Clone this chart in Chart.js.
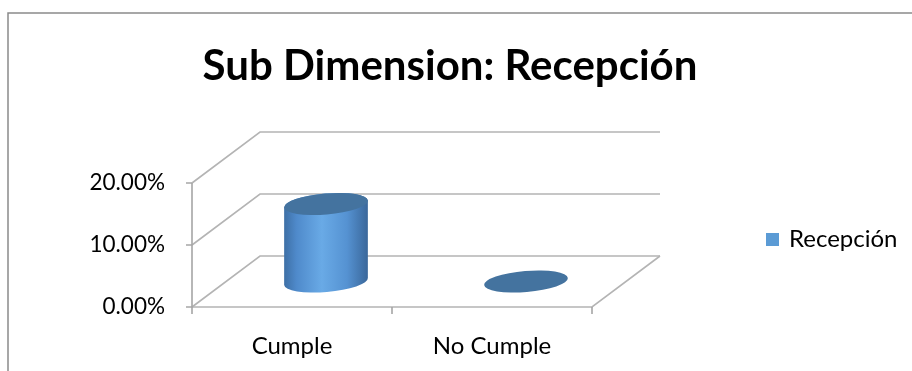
<!DOCTYPE html>
<html>
<head>
<meta charset="utf-8">
<script src="https://cdn.jsdelivr.net/npm/chart.js"></script>
<style>
html, body { margin: 0; padding: 0; background: #fff; }
#wrap { width: 912px; height: 371px; }
</style>
</head>
<body>
<div id="wrap"><canvas id="myChart" width="912" height="371"></canvas></div>
<script>
var titulo = "Sub Dimension: Recepción";
var categorias = ["Cumple", "No Cumple"];
var serie = "Recepción";
var valores = [12.5, 0];
var ticksY = [0, 10, 20];

// desplazamiento de la profundidad (caja 3D)
var profX = 68, profY = -51;
var fuente = "Lato, 'Open Sans', sans-serif";

var caja3d = {
  id: 'caja3d',
  beforeDatasetsDraw: function(chart){
    var ctx = chart.ctx, a = chart.chartArea, sy = chart.scales.y;
    ctx.save();
    ctx.strokeStyle = "#b4b4b4";
    ctx.lineWidth = 1.6;
    ticksY.forEach(function(v){
      var y = sy.getPixelForValue(v);
      ctx.beginPath();
      ctx.moveTo(a.left, y);
      ctx.lineTo(a.left + profX, y + profY);
      ctx.lineTo(a.right + profX, y + profY);
      ctx.stroke();
    });
    var y0 = sy.getPixelForValue(0);
    ctx.beginPath();
    ctx.moveTo(a.left, y0);
    ctx.lineTo(a.right, y0);
    ctx.lineTo(a.right + profX, y0 + profY);
    ctx.stroke();
    // eje vertical y marcas
    ctx.strokeStyle = "#a6a6a6";
    ctx.beginPath();
    ctx.moveTo(a.left, sy.getPixelForValue(ticksY[ticksY.length-1]));
    ctx.lineTo(a.left, y0);
    ticksY.forEach(function(v){
      var y = sy.getPixelForValue(v);
      ctx.moveTo(a.left - 6, y);
      ctx.lineTo(a.left, y);
    });
    // marcas del eje x
    var paso = (a.right - a.left) / categorias.length;
    for (var i = 0; i <= categorias.length; i++) {
      ctx.moveTo(a.left + paso * i, y0);
      ctx.lineTo(a.left + paso * i, y0 + 7);
    }
    ctx.stroke();
    ctx.restore();
  },
  afterDatasetsDraw: function(chart){
    var ctx = chart.ctx;
    var meta = chart.getDatasetMeta(0);
    ctx.save();
    meta.data.forEach(function(bar){
      var p = bar.getProps(['x', 'y', 'base', 'width'], true);
      var cx = p.x + profX / 2, top = p.y + profY / 2, bot = p.base + profY / 2;
      var rx = p.width / 2, ry = 10.5, rot = -0.085;
      if (bot - top > 0.5) {
        var g = ctx.createLinearGradient(cx - rx, 0, cx + rx, 0);
        g.addColorStop(0, "#3d6fa5");
        g.addColorStop(0.15, "#4f8acb");
        g.addColorStop(0.45, "#69aae6");
        g.addColorStop(0.75, "#5592d2");
        g.addColorStop(1, "#3a679a");
        ctx.fillStyle = g;
        ctx.beginPath();
        ctx.ellipse(cx, bot, rx, ry, rot, 0, Math.PI);
        ctx.ellipse(cx, top, rx, ry, rot, Math.PI, Math.PI * 2);
        ctx.closePath();
        ctx.fill();
      }
      ctx.fillStyle = "#44739f";
      ctx.beginPath();
      ctx.ellipse(cx, top, rx, ry, rot, 0, Math.PI * 2);
      ctx.fill();
    });
    ctx.restore();
  },
  afterDraw: function(chart){
    var ctx = chart.ctx;
    ctx.save();
    // marco
    ctx.strokeStyle = "#8a8a8a";
    ctx.lineWidth = 1.5;
    ctx.beginPath();
    ctx.moveTo(8, 371);
    ctx.lineTo(8, 13);
    ctx.lineTo(912, 13);
    ctx.stroke();
    // titulo
    ctx.fillStyle = "#000";
    ctx.font = "bold 42px " + fuente;
    ctx.textAlign = "center";
    ctx.textBaseline = "alphabetic";
    ctx.fillText(titulo, 450, 80);
    // leyenda
    ctx.fillStyle = "#5b9bd5";
    ctx.fillRect(766, 233, 13, 13);
    ctx.fillStyle = "#000";
    ctx.font = "24px " + fuente;
    ctx.textAlign = "left";
    ctx.textBaseline = "alphabetic";
    ctx.fillText(chart.data.datasets[0].label, 789, 247);
    ctx.restore();
  }
};

var ctx = document.getElementById('myChart');
var grafico = new Chart(ctx, {
  type: 'bar',
  data: {
    labels: categorias,
    datasets: [{
      label: serie,
      data: valores,
      backgroundColor: "rgba(0,0,0,0)",
      borderWidth: 0,
      barPercentage: 0.42,
      categoryPercentage: 1
    }]
  },
  options: {
    responsive: false,
    devicePixelRatio: 1,
    animation: false,
    layout: { padding: { left: 0, right: 320, top: 183, bottom: 0 } },
    plugins: {
      legend: { display: false },
      title: { display: false },
      tooltip: { enabled: false }
    },
    scales: {
      y: {
        min: 0,
        max: 20,
        ticks: {
          stepSize: 10,
          padding: 27,
          color: "#000",
          font: { family: fuente, size: 22.5 },
          callback: function(v){ return v.toFixed(2) + "%"; }
        },
        grid: { display: false, drawTicks: false },
        border: { display: false },
        afterFit: function(s){ s.width = 192; }
      },
      x: {
        ticks: {
          padding: 25,
          color: "#000",
          font: { family: fuente, size: 24 }
        },
        grid: { display: false, drawTicks: false },
        border: { display: false },
        afterFit: function(s){ s.height = 64; }
      }
    }
  },
  plugins: [caja3d]
});
</script>
</body>
</html>
